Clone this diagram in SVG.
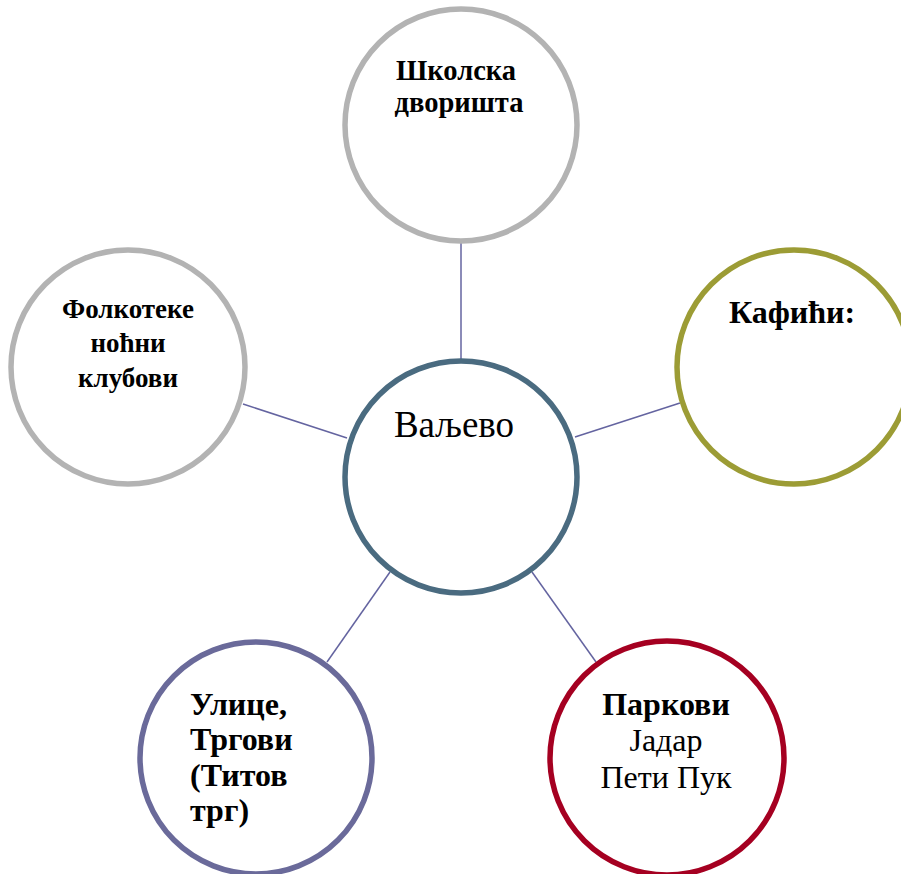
<svg xmlns="http://www.w3.org/2000/svg" width="901" height="874" viewBox="0 0 901 874">
<style>
.c{fill:#fff;stroke-width:5.5}
.t{font-family:"Liberation Serif","Times New Roman",serif;fill:#000}
.b{font-weight:bold}
.m{text-anchor:middle}
.ln{stroke:#6464a0;stroke-width:1.5;fill:none}
</style>
<rect width="901" height="874" fill="#fff"/>
<g id="connectors">
<line class="ln" x1="461" y1="242" x2="461" y2="360"/>
<line class="ln" x1="243" y1="404" x2="347" y2="438"/>
<line class="ln" x1="575" y1="437" x2="680" y2="403"/>
<line class="ln" x1="390" y1="572" x2="327" y2="662"/>
<line class="ln" x1="532" y1="572" x2="596" y2="662"/>
</g>
<g id="top">
<circle class="c" cx="461" cy="125" r="116" stroke="#b3b3b3"/>
<text class="t b m" font-size="28.5" x="456" y="80">Школска</text>
<text class="t b m" font-size="28.5" x="459" y="112">дворишта</text>
</g>
<g id="left">
<circle class="c" cx="128" cy="367" r="117" stroke="#b3b3b3"/>
<text class="t b m" font-size="27" x="128" y="318">Фолкотеке</text>
<text class="t b m" font-size="27" x="128" y="352">ноћни</text>
<text class="t b m" font-size="27" x="128" y="387">клубови</text>
</g>
<g id="right">
<circle class="c" cx="794" cy="367" r="117" stroke="#9c9c35"/>
<text class="t b m" font-size="32" x="792" y="323">Кафићи:</text>
</g>
<g id="center">
<circle class="c" cx="461" cy="477" r="116" stroke="#4a6b80"/>
<text class="t m" font-size="37" x="454" y="437">Ваљево</text>
</g>
<g id="bottom-left">
<circle class="c" cx="256" cy="758" r="116" stroke="#6a6a9a"/>
<text class="t b" font-size="32" x="190" y="715">Улице,</text>
<text class="t b" font-size="32" x="190" y="750">Тргови</text>
<text class="t b" font-size="32" x="190" y="786">(Титов</text>
<text class="t b" font-size="32" x="190" y="821">трг)</text>
</g>
<g id="bottom-right">
<circle class="c" cx="667" cy="758" r="117" stroke="#a50021"/>
<text class="t b m" font-size="32" x="666" y="715">Паркови</text>
<text class="t m" font-size="32" x="666" y="751">Јадар</text>
<text class="t m" font-size="32" x="666" y="788">Пети Пук</text>
</g>
</svg>
